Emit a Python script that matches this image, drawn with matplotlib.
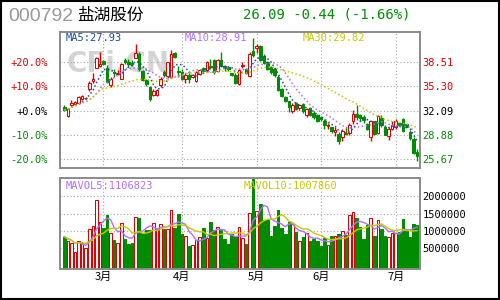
import numpy as np
import pandas as pd
import matplotlib
matplotlib.use("Agg")
import matplotlib.pyplot as plt
from matplotlib.patches import Rectangle

# daily candles (mid Feb .. early Jul)
opens = [32.62, 31.40, 32.90, 33.00, 33.06, 33.68, 33.72, 35.00, 35.96, 37.80,
         38.06, 38.68, 37.80, 35.52, 37.18, 37.00, 36.31, 38.85, 38.50, 38.40,
         39.11, 39.64, 37.36, 36.13, 35.17, 34.12, 34.20, 35.52, 37.27, 36.66,
         36.57, 39.73, 37.36, 37.19, 36.22, 36.84, 36.57, 36.04, 36.92, 37.71,
         37.45, 38.00, 38.76, 37.36, 38.85, 37.97, 37.89, 37.10, 36.84, 35.60,
         38.06, 37.54, 36.66, 39.99, 40.40, 40.60, 39.38, 38.50, 37.89, 37.62,
         36.57, 34.99, 33.94, 33.33, 32.01, 33.15, 32.45, 32.98, 31.50, 32.45,
         31.83, 31.57, 31.22, 30.78, 30.08, 29.99, 29.29, 29.03, 28.59, 29.12,
         29.12, 30.69, 31.66, 31.57, 31.30, 30.34, 28.59, 30.69, 29.12, 31.13,
         29.99, 28.77, 29.73, 29.90, 30.52, 30.96, 30.34, 29.29, 28.33, 26.66]
closes = [32.19, 32.36, 33.15, 33.24, 33.85, 34.03, 33.78, 35.78, 36.22, 39.00,
          38.32, 38.32, 35.87, 36.31, 37.01, 37.10, 38.32, 38.50, 38.32, 38.30,
          39.73, 37.54, 36.13, 35.60, 33.60, 34.73, 34.80, 36.31, 36.75, 38.50,
          39.55, 39.20, 37.19, 36.31, 36.84, 36.31, 36.75, 37.27, 37.45, 37.36,
          38.59, 37.85, 37.18, 38.76, 37.97, 37.80, 37.62, 36.84, 35.78, 37.45,
          38.15, 37.10, 39.64, 39.46, 40.60, 38.85, 38.41, 37.62, 37.18, 36.84,
          34.82, 34.03, 33.33, 32.54, 32.89, 32.36, 32.89, 32.01, 32.30, 31.57,
          31.22, 30.78, 30.96, 30.17, 30.17, 29.38, 29.55, 28.15, 29.47, 29.03,
          30.26, 31.66, 31.22, 31.13, 30.87, 29.73, 30.69, 29.03, 31.40, 30.26,
          28.94, 29.64, 30.26, 30.69, 30.26, 29.47, 29.99, 28.42, 26.53, 26.09]
highs = [32.80, 32.45, 33.50, 33.40, 34.00, 34.20, 33.90, 36.04, 37.10, 39.20,
         39.85, 38.80, 38.15, 36.57, 37.60, 37.45, 38.41, 39.10, 38.94, 38.85,
         40.96, 39.80, 37.50, 36.30, 35.30, 34.99, 35.00, 36.57, 37.45, 38.59,
         40.08, 39.90, 37.97, 37.54, 37.01, 37.01, 36.90, 37.36, 37.60, 37.89,
         38.68, 38.94, 38.90, 38.90, 39.90, 38.15, 38.00, 37.10, 37.10, 37.54,
         38.50, 37.70, 39.82, 41.74, 40.96, 40.78, 39.55, 38.68, 38.06, 37.71,
         36.75, 35.10, 34.00, 33.40, 33.06, 33.24, 33.00, 33.15, 32.50, 32.60,
         32.00, 31.70, 31.40, 31.00, 30.43, 30.00, 29.99, 29.29, 29.64, 29.99,
         30.43, 32.19, 32.89, 31.70, 31.57, 30.52, 30.69, 30.78, 31.50, 31.48,
         30.10, 29.90, 30.69, 30.96, 30.60, 31.13, 30.40, 29.55, 28.59, 27.00]
lows = [32.00, 31.22, 32.70, 32.90, 33.00, 33.60, 33.60, 34.64, 35.70, 37.70,
        37.90, 38.10, 35.70, 35.26, 36.60, 36.75, 36.22, 38.30, 38.06, 37.97,
        39.00, 37.36, 36.00, 35.40, 33.40, 34.00, 34.10, 35.26, 36.57, 36.48,
        36.40, 39.03, 36.57, 36.13, 35.70, 35.70, 36.40, 35.87, 36.80, 37.01,
        37.27, 37.60, 37.00, 37.20, 37.90, 37.36, 37.40, 36.70, 35.60, 35.43,
        37.80, 36.90, 36.57, 39.20, 39.70, 38.68, 38.20, 37.45, 36.92, 36.60,
        34.64, 33.85, 33.20, 31.90, 31.83, 32.20, 32.20, 31.75, 31.30, 31.40,
        31.00, 30.60, 30.70, 29.65, 29.73, 29.12, 28.77, 27.63, 28.15, 28.85,
        28.94, 30.34, 30.87, 30.78, 30.52, 29.60, 28.15, 28.94, 29.00, 29.99,
        28.85, 28.24, 29.55, 29.73, 30.10, 29.29, 29.80, 28.24, 26.39, 25.43]
volumes = [829000, 703000, 655000, 384000, 703000, 655000, 500000, 1050000, 1140000, 1890000,
           1250000, 1080000, 1460000, 935000, 732000, 645000, 1230000, 761000, 626000, 645000,
           1400000, 1370000, 925000, 1010000, 1020000, 1230000, 1040000, 1200000, 1060000, 1050000,
           1600000, 1090000, 1500000, 906000, 848000, 558000, 587000, 722000, 829000, 1070000,
           800000, 1250000, 1010000, 1100000, 1010000, 761000, 626000, 896000, 838000, 1100000,
           780000, 616000, 1530000, 2500000, 1560000, 1780000, 1310000, 1310000, 848000, 1140000,
           1600000, 1080000, 906000, 1250000, 1200000, 964000, 693000, 809000, 925000, 713000,
           770000, 713000, 558000, 790000, 587000, 848000, 848000, 906000, 1000000, 887000,
           1450000, 1540000, 1370000, 1100000, 751000, 1180000, 1370000, 848000, 1310000, 1040000,
           848000, 809000, 944000, 944000, 964000, 1330000, 1020000, 829000, 1200000, 1160000]

month_pos = [11, 33, 54, 72, 93]
month_labels = ["3月", "4月", "5月", "6月", "7月"]
price_ticks = [38.51, 35.30, 32.09, 28.88, 25.67]
pct_labels = ["+20.0%", "+10.0%", "+0.0%", "-10.0%", "-20.0%"]
vol_ticks = [2000000, 1500000, 1000000, 500000]

RED = "#e00000"
GREEN = "#008c00"
GRID = "#a8a8a8"
FRAME = "#8c8c8c"
MONO = "DejaVu Sans Mono"
CJK = ["Noto Sans CJK SC", "DejaVu Sans"]

o = np.array(opens)
c = np.array(closes)
h = np.array(highs)
l = np.array(lows)
v = np.array(volumes, dtype=float)
x = np.arange(len(c))
up = c >= o
cols = np.where(up, RED, GREEN)
faces = np.where(up, "white", GREEN)

ma5 = pd.Series(c).rolling(5, min_periods=1).mean()
ma10 = pd.Series(c).rolling(10, min_periods=1).mean()
ma30 = pd.Series(c).rolling(30, min_periods=1).mean()
mv5 = pd.Series(v).rolling(5, min_periods=1).mean()
mv10 = pd.Series(v).rolling(10, min_periods=1).mean()

fig = plt.figure(figsize=(5, 3), dpi=100)
ax = fig.add_axes([0.1206, 0.441, 0.72, 0.4533])
axv = fig.add_axes([0.1206, 0.1033, 0.72, 0.3023])

xlim = (-1.12, 99.9)

#
# price panel
#
ax.set_xlim(xlim)
ax.set_ylim(24.56, 42.53)
ax.text(0.16, 0.76, "CFi.CN", transform=ax.transAxes, fontsize=20, fontweight="bold",
        color="#d4d4d4", ha="center", va="center", zorder=1)
ax.vlines(x, l, h, colors=cols, lw=1, zorder=3)
ax.bar(x, np.maximum(abs(c - o), 0.04), bottom=np.minimum(o, c), width=0.72,
       color=faces, edgecolor=cols, lw=0.75, zorder=4)
ax.plot(x, ma5, color="#1a4f9c", lw=1.1, ls=(0, (1, 1.6)), zorder=5)
ax.plot(x, ma10, color="#b070ff", lw=1.1, ls=(0, (1, 1.6)), zorder=5)
ax.plot(x, ma30, color="#c8c800", lw=1.1, ls=(0, (1, 1.6)), zorder=5)

ax.set_xticks(month_pos)
ax.set_xticklabels([])
ax.set_yticks(price_ticks)
ax.set_yticklabels(pct_labels, family=MONO, fontsize=7.5)
for t, col in zip(ax.get_yticklabels(), [RED, RED, "black", GREEN, GREEN]):
    t.set_color(col)
ax.tick_params(length=0)
ax.tick_params(axis="y", pad=9)
ax.grid(True, color=GRID, ls=(0, (1, 2)), lw=0.8, zorder=0)

axr = ax.twinx()
axr.set_ylim(ax.get_ylim())
axr.set_yticks(price_ticks)
axr.set_yticklabels(["%.2f" % p for p in price_ticks], family=MONO, fontsize=7.5)
for t, col in zip(axr.get_yticklabels(), [RED, RED, "black", GREEN, GREEN]):
    t.set_color(col)
axr.tick_params(length=0, pad=1.5)

ax.text(0.016, 0.955, "MA5:27.93", transform=ax.transAxes, family=MONO, fontsize=7.5,
        color="#1a4f9c", va="center", zorder=6)
ax.text(0.344, 0.955, "MA10:28.91", transform=ax.transAxes, family=MONO, fontsize=7.5,
        color="#b070ff", va="center", zorder=6)
ax.text(0.674, 0.955, "MA30:29.82", transform=ax.transAxes, family=MONO, fontsize=7.5,
        color="#c8c800", va="center", zorder=6)

#
# volume panel
#
vmin, vmax = -110000, 2522000
axv.set_xlim(xlim)
axv.set_ylim(vmin, vmax)
axv.bar(x, v - vmin, bottom=vmin, width=0.72, color=faces, edgecolor=cols, lw=0.75, zorder=3)
axv.plot(x, mv5, color="#b070ff", lw=1, zorder=4)
axv.plot(x, mv10, color="#c8c800", lw=1, zorder=4)
axv.set_xticks(month_pos)
axv.set_xticklabels(month_labels, family=CJK, fontsize=8)
axv.set_yticks(vol_ticks)
axv.set_yticklabels([])
axv.tick_params(length=0, pad=2)
axv.grid(True, color=GRID, ls=(0, (1, 2)), lw=0.8, zorder=0)

axvr = axv.twinx()
axvr.set_ylim(vmin, vmax)
axvr.set_yticks(vol_ticks)
axvr.set_yticklabels([str(t) for t in vol_ticks], family=MONO, fontsize=7.5)
axvr.tick_params(length=0, pad=1.5)

axv.text(0.016, 0.915, "MAVOL5:1106823", transform=axv.transAxes, family=MONO, fontsize=7.5,
         color="#b070ff", va="center", zorder=6)
axv.text(0.51, 0.915, "MAVOL10:1007860", transform=axv.transAxes, family=MONO, fontsize=7.5,
         color="#c8c800", va="center", zorder=6)

for a in (ax, axr, axv, axvr):
    for s in a.spines.values():
        s.set_color(FRAME)
        s.set_linewidth(1.3)

#
# header
#
fig.text(8 / 500, 1 - 16.5 / 300, "000792", family="Liberation Sans", fontsize=14,
         color="#999999", va="center")
fig.text(77 / 500, 1 - 15 / 300, "盐湖股份", family=CJK, fontsize=12, color="black", va="center")
fig.text(243 / 500, 1 - 14.5 / 300, "26.09 -0.44 (-1.66%)", family=MONO, fontsize=10,
         color="#009000", va="center")

fig.patches.append(Rectangle((0.001, 0.002), 0.997, 0.996, transform=fig.transFigure,
                             fill=False, edgecolor="black", lw=1.5))

fig.savefig("out.png", dpi=100)
